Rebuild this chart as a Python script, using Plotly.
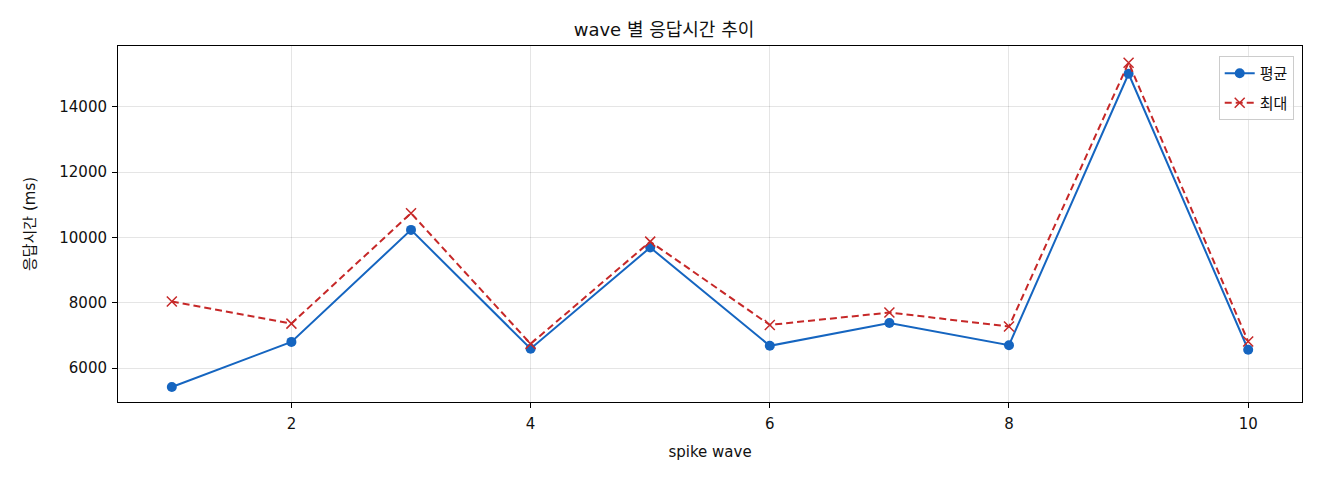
import plotly.graph_objects as go

waves = [1, 2, 3, 4, 5, 6, 7, 8, 9, 10]
avg_ms = [5420, 6800, 10230, 6590, 9690, 6680, 7380, 6700, 15010, 6560]
max_ms = [8040, 7360, 10740, 6740, 9870, 7320, 7700, 7270, 15350, 6810]
yticks = [6000, 8000, 10000, 12000, 14000]
xticks = [2, 4, 6, 8, 10]

FONT = "DejaVu Sans, Noto Sans CJK KR"
BLUE = "#1565c0"
RED = "#c62828"

fig = go.Figure()
fig.add_trace(go.Scatter(
    x=waves, y=avg_ms, name="평균", mode="lines+markers", legendgroup="avg",
    line=dict(color=BLUE, width=2),
    marker=dict(symbol="circle", size=10, color=BLUE),
))
fig.add_trace(go.Scatter(
    x=waves, y=max_ms, name="최대", mode="lines+markers", legendgroup="max",
    line=dict(color=RED, width=2, dash="7px,4px"),
    marker=dict(symbol="x-thin", size=10, color=RED, line=dict(color=RED, width=1.5)),
))

axis_common = dict(
    showline=True, linecolor="black", linewidth=1, mirror=True,
    ticks="outside", ticklen=5, tickcolor="black",
    showgrid=True, gridcolor="rgba(0,0,0,0.1)", gridwidth=1,
    zeroline=False, tickfont=dict(size=15, color="#111"),
)

# the page body has an 8px margin, so the figure is sized to fit
fig.update_layout(
    width=1312, height=472,
    margin=dict(l=110, r=18, t=38, b=78),
    paper_bgcolor="white", plot_bgcolor="white",
    font=dict(family=FONT, color="#111"),
    title=dict(text="wave 별 응답시간 추이", x=0.5, xanchor="center",
               y=0.955, yanchor="middle", font=dict(size=18, color="#111")),
    xaxis=dict(range=[0.55, 10.45], tickvals=xticks, ticklabelstandoff=3,
               title=dict(text="spike wave", font=dict(size=15), standoff=14),
               **axis_common),
    yaxis=dict(range=[4960, 15860], tickvals=yticks, tickformat="d", ticklabelstandoff=2,
               title=dict(text="응답시간 (ms)", font=dict(size=15), standoff=20),
               **axis_common),
    legend=dict(x=0.993, y=0.972, xanchor="right", yanchor="top",
                traceorder="grouped", tracegroupgap=7,
                bgcolor="rgba(255,255,255,0.8)", bordercolor="#cccccc", borderwidth=1,
                font=dict(size=15)),
)

fig.write_html("out.html")
